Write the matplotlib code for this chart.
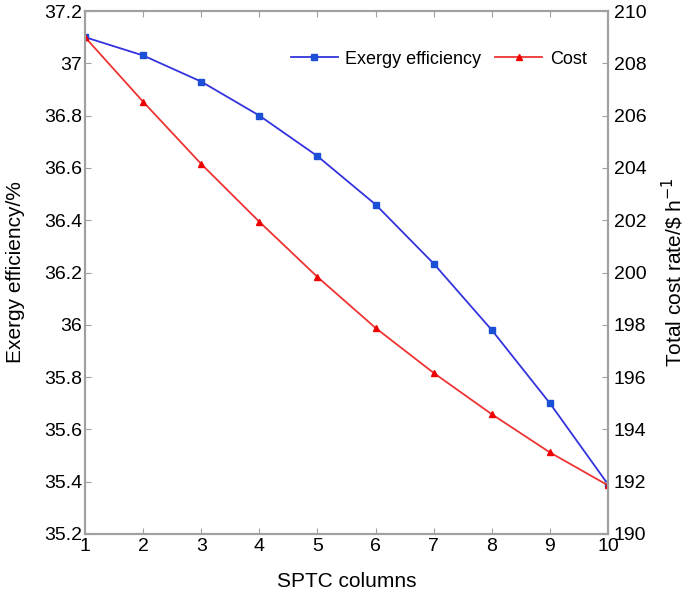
import matplotlib
matplotlib.use("Agg")
import matplotlib.pyplot as plt

plt.rcParams['font.family'] = ['Liberation Sans', 'DejaVu Sans']

# data
columns = [1, 2, 3, 4, 5, 6, 7, 8, 9, 10]
exergy = [37.10, 37.03, 36.93, 36.80, 36.645, 36.46, 36.234, 35.98, 35.70, 35.39]
cost = [209.0, 206.53, 204.15, 201.94, 199.83, 197.88, 196.16, 194.58, 193.12, 191.86]

left_ticks = [35.2, 35.4, 35.6, 35.8, 36, 36.2, 36.4, 36.6, 36.8, 37, 37.2]
left_labels = ['35.2', '35.4', '35.6', '35.8', '36', '36.2', '36.4', '36.6', '36.8', '37', '37.2']
right_ticks = [190, 192, 194, 196, 198, 200, 202, 204, 206, 208, 210]

fig = plt.figure(figsize=(6.85, 5.97), dpi=100)
ax = fig.add_axes([85 / 685, 63 / 597, 523 / 685, 523 / 597])
ax2 = ax.twinx()

l1, = ax.plot(columns, exergy, color='#3333dd', lw=1.3, marker='s', ms=4,
              markerfacecolor='#1a4fd6', markeredgecolor='#1a4fd6', label='Exergy efficiency')
l2, = ax2.plot(columns, cost, color='#ee3333', lw=1.3, marker='^', ms=5,
               markerfacecolor='#ee0000', markeredgecolor='#ee0000', label='Cost')

ax.set_xlim(1, 10)
ax.set_ylim(35.2, 37.2)
ax2.set_ylim(190, 210)
ax.set_xticks(columns)
ax.set_yticks(left_ticks)
ax.set_yticklabels(left_labels)
ax2.set_yticks(right_ticks)

for a in (ax, ax2):
    for s in a.spines.values():
        s.set_color('#a0a0a0')
        s.set_linewidth(1.5)
    a.tick_params(direction='in', length=4, color='#a0a0a0', labelsize=14, pad=2)
ax.tick_params(axis='x', top=True, pad=3)
ax2.tick_params(axis='y', pad=4)

ax.set_xlabel('SPTC columns', fontsize=15, labelpad=12)
ax.set_ylabel('Exergy efficiency/%', fontsize=15, labelpad=14)
ax2.set_ylabel(r'Total cost rate/\$ h$^{-1}$', fontsize=15, labelpad=10)

ax.legend([l1, l2], ['Exergy efficiency', 'Cost'], loc='upper right', ncol=2, frameon=False,
          fontsize=13, handlelength=2.6, columnspacing=0.8, handletextpad=0.4,
          bbox_to_anchor=(0.99, 0.955))

fig.savefig('out.png', dpi=100)
